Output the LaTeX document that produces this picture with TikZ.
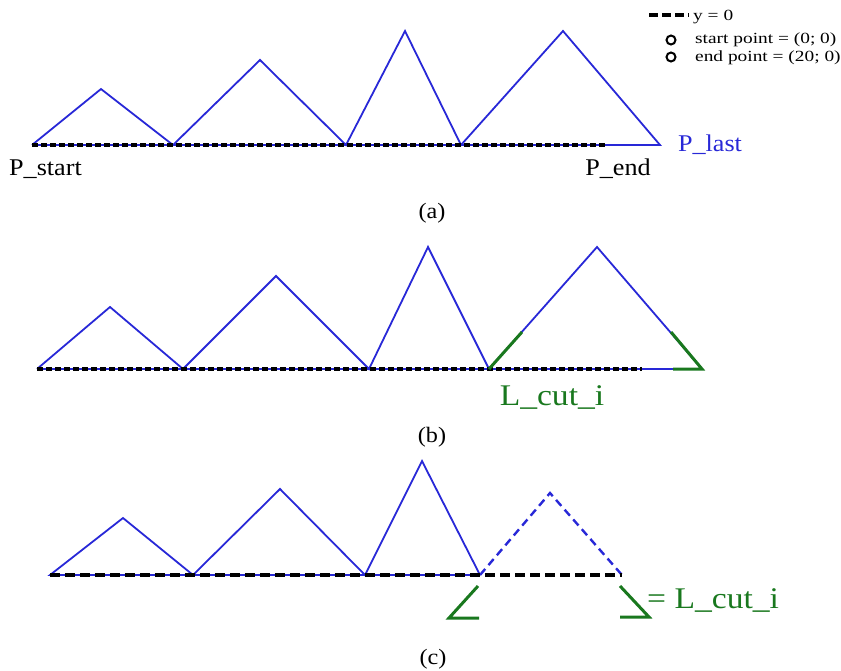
\documentclass[tikz,border=0pt]{standalone}
\usepackage{fontspec}
\setmainfont{Liberation Serif}
\usepackage{graphicx}
\definecolor{pblue}{RGB}{40,40,215}
\definecolor{pgreen}{RGB}{25,120,30}
\newcommand{\wide}[2][1.1]{\scalebox{#1}[1]{#2}}
\tikzset{
  poly/.style={pblue, line width=1.8pt, line join=miter},
  base/.style={black, line width=3.4pt, dash pattern=on 6pt off 3pt},
  basec/.style={black, line width=3.4pt, dash pattern=on 10pt off 5pt},
  cutline/.style={pgreen, line width=3pt},
  lbl/.style={inner sep=0pt, anchor=base, font=\fontsize{24}{26}\selectfont},
  cutlbl/.style={inner sep=0pt, anchor=base, text=pgreen, font=\fontsize{30}{32}\selectfont},
  panellbl/.style={inner sep=0pt, anchor=base, font=\fontsize{22}{24}\selectfont},
  leg/.style={inner sep=0pt, anchor=base west, font=\fontsize{15.5}{17}\selectfont},
  legmark/.style={circle, draw=black, line width=2pt, minimum size=9pt, inner sep=0pt}
}
\begin{document}
\begin{tikzpicture}[x=1pt,y=-1pt]
\useasboundingbox (0,0) rectangle (841,670);
% legend
\coordinate (l1) at (649,15);
\coordinate (l2) at (689,15);
\draw[black, line width=3.4pt, dash pattern=on 9pt off 4pt] (l1) -- (l2);
\node[leg] (ly) at (693,20) {\wide[1.25]{y = 0}};
\node[legmark] (m1) at (671,40) {};
\node[legmark] (m2) at (671,57) {};
\node[leg] (ls) at (695,43) {\wide[1.25]{start point = (0; 0)}};
\node[leg] (le) at (695,61) {\wide[1.25]{end point = (20; 0)}};
% panel (a)
\coordinate (a0) at (32,145);
\coordinate (a1) at (101,89);
\coordinate (a2) at (173,145);
\coordinate (a3) at (260,60);
\coordinate (a4) at (346,145);
\coordinate (a5) at (405,31);
\coordinate (a6) at (461,145);
\coordinate (a7) at (563,31);
\coordinate (a8) at (660,145);
\coordinate (ae) at (606,145);
\draw[poly] (a0) -- (a1) -- (a2) -- (a3) -- (a4) -- (a5) -- (a6) -- (a7) -- (a8) -- (a0);
\draw[base] (a0) -- (ae);
\node[lbl] (ps) at (45.5,175) {\wide[1.09]{P\_start}};
\node[lbl] (pe) at (618,175) {\wide[1.09]{P\_end}};
\node[lbl, text=pblue] (pl) at (710,151) {\wide[1.09]{P\_last}};
\node[panellbl] (ca) at (432,218) {\wide{(a)}};
% panel (b)
\coordinate (b0) at (37,369);
\coordinate (b1) at (110,307);
\coordinate (b2) at (183,369);
\coordinate (b3) at (276,276);
\coordinate (b4) at (369,369);
\coordinate (b5) at (428,247);
\coordinate (b6) at (489,369);
\coordinate (b7) at (597,247);
\coordinate (b8) at (702,369);
\coordinate (be) at (642,369);
\coordinate (g1) at (522,332);
\coordinate (g2) at (671,332);
\coordinate (g3) at (673,369);
\draw[poly] (b0) -- (b1) -- (b2) -- (b3) -- (b4) -- (b5) -- (b6) -- (b7) -- (b8) -- (b0);
\draw[base] (b0) -- (be);
\draw[cutline] (b6) -- (g1);
\draw[cutline, line join=miter] (g2) -- (b8) -- (g3);
\node[cutlbl] (lc) at (552,405) {\wide[1.12]{L\_cut\_i}};
\node[panellbl] (cb) at (432,442) {\wide{(b)}};
% panel (c)
\coordinate (c0) at (50,575);
\coordinate (c1) at (123,518);
\coordinate (c2) at (193,575);
\coordinate (c3) at (280,489);
\coordinate (c4) at (365,575);
\coordinate (c5) at (422,461);
\coordinate (c6) at (480,575);
\coordinate (c7) at (550,493);
\coordinate (c8) at (622,575);
\draw[poly] (c6) -- (c0) -- (c1) -- (c2) -- (c3) -- (c4) -- (c5) -- (c6);
\draw[pblue, line width=2.4pt, dash pattern=on 8pt off 5pt] (c6) -- (c7) -- (c8);
\draw[basec] (c0) -- (c8);
\coordinate (k1) at (478,586);
\coordinate (k2) at (449,618);
\coordinate (k3) at (479,618);
\coordinate (k4) at (620,586);
\coordinate (k5) at (649,617);
\coordinate (k6) at (620,617);
\draw[cutline, line join=miter] (k1) -- (k2) -- (k3);
\draw[cutline, line join=miter] (k4) -- (k5) -- (k6);
\node[cutlbl, anchor=base west] (lc2) at (647,608) {\wide[1.12]{= L\_cut\_i}};
\node[panellbl] (cc) at (433,664) {\wide{(c)}};
\end{tikzpicture}
\end{document}
